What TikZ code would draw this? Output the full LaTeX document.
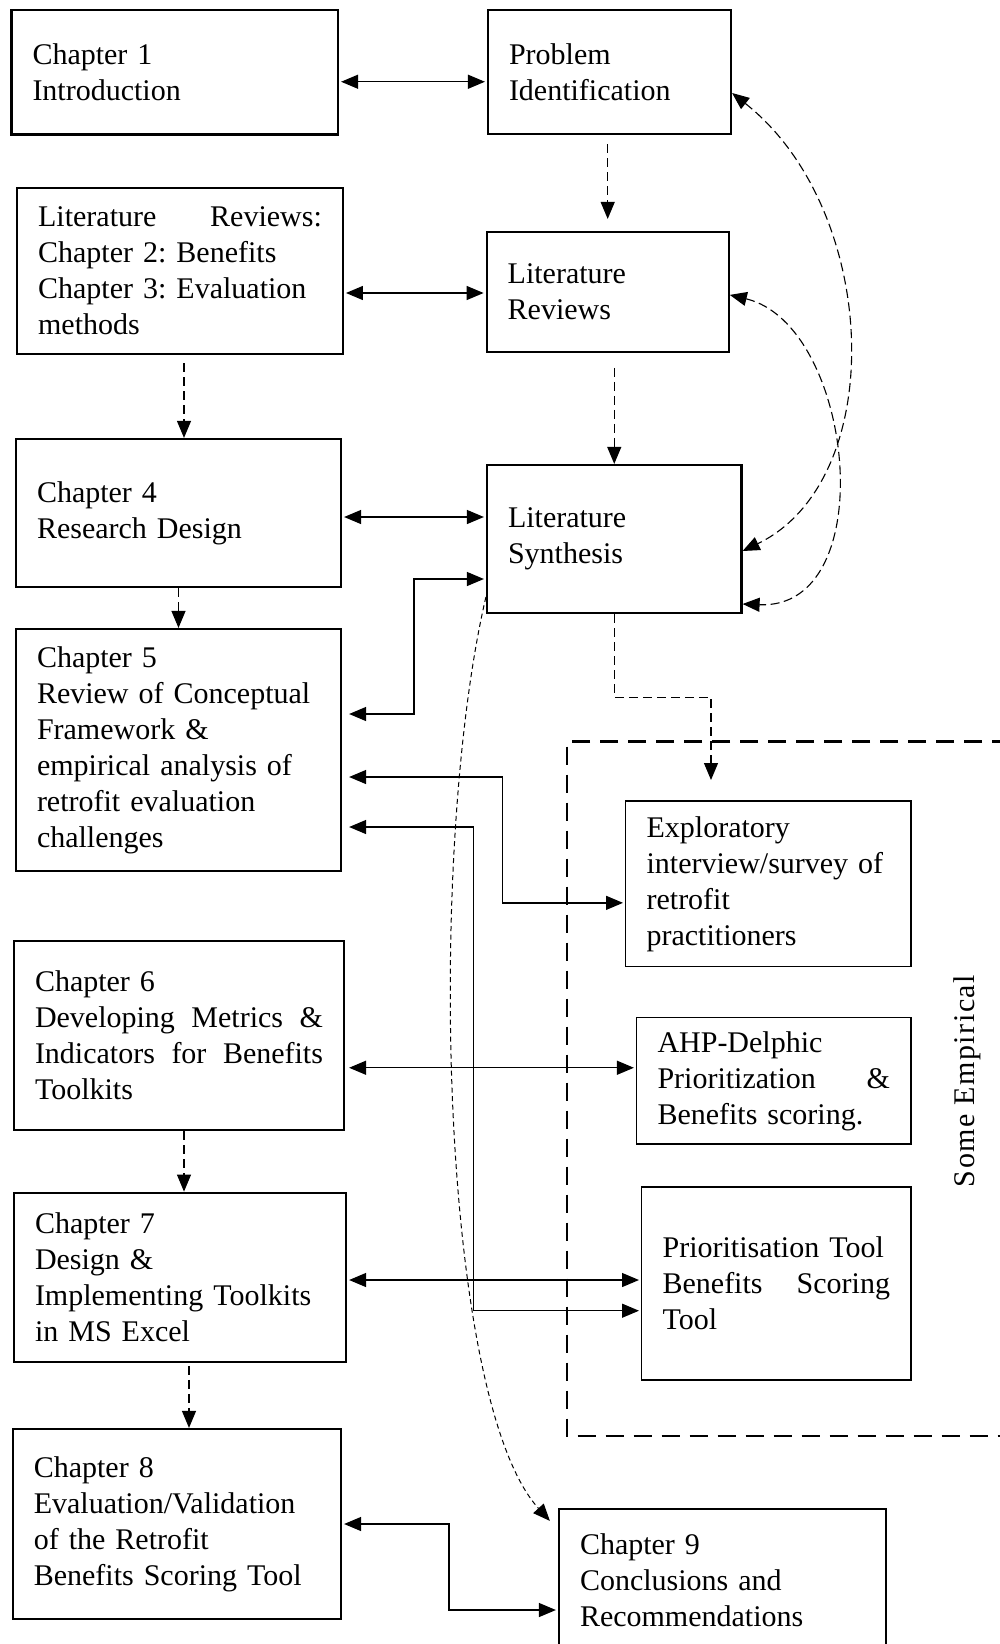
\documentclass[tikz,border=0pt]{standalone}
\usepackage{fontspec}
\setmainfont{Liberation Serif}
\newfontfamily\labelfont[LetterSpace=5]{Liberation Serif}
\frenchspacing
\usetikzlibrary{arrows.meta,calc}

\tikzset{
  chbox/.style={draw, rectangle, line width=2.2pt, align=left, inner xsep=21pt, inner ysep=0pt,
    font=\fontsize{30}{36}\selectfont},
  sidebox/.style={chbox, line width=1.2pt},
  link/.style={line width=1.3pt, <->, shorten <=2pt, shorten >=2pt},
  flow/.style={line width=1.1pt, dash pattern=on 9pt off 5pt, ->},
  curvelink/.style={line width=1.1pt, dash pattern=on 9pt off 4.5pt, <->},
  longcurve/.style={line width=1pt, dash pattern=on 5pt off 3.5pt, ->},
  region/.style={line width=2.6pt, dash pattern=on 18pt off 10pt},
}

\begin{document}
\begin{tikzpicture}[x=1pt, y=-1pt, >={Triangle[length=17pt,width=14pt]}]
\useasboundingbox (0,0) rectangle (999,1644);
\fill[white] (0,0) rectangle (999,1644);

% left column: chapters
\node[chbox, minimum width=326.5pt, minimum height=124.5pt, text width=284.5pt] (ch1) at (174.75,72.25)
  {Chapter 1\\Introduction};
\node[chbox, minimum width=325.7pt, minimum height=166pt, text width=283.7pt] (litL) at (180,271)
  {Literature\hfill Reviews:\\Chapter 2: Benefits\\Chapter 3: Evaluation\\methods};
\node[chbox, minimum width=325pt, minimum height=148pt, text width=283pt] (ch4) at (178.5,513)
  {Chapter 4\\Research Design};
\node[chbox, minimum width=325pt, minimum height=242pt, text width=283pt] (ch5) at (178.5,750)
  {Chapter 5\\Review of Conceptual\\Framework \&\\empirical analysis of\\retrofit evaluation\\challenges};
\node[chbox, minimum width=330pt, minimum height=189.3pt, text width=288pt] (ch6) at (179,1035.35)
  {Chapter 6\\Developing\hfill Metrics\hfill \&\\Indicators\hfill for\hfill Benefits\\Toolkits};
\node[chbox, minimum width=332pt, minimum height=169pt, text width=290pt] (ch7) at (180,1277.2)
  {Chapter 7\\Design \&\\Implementing Toolkits\\in MS Excel};
\node[chbox, minimum width=328.2pt, minimum height=190pt, text width=286.2pt] (ch8) at (176.9,1524)
  {Chapter 8\\Evaluation/Validation\\of the Retrofit\\Benefits Scoring Tool};

% middle column
\node[chbox, minimum width=243pt, minimum height=124pt, text width=201pt] (pi) at (609.5,72)
  {Problem\\Identification};
\node[chbox, minimum width=242pt, minimum height=119.7pt, text width=200pt] (litR) at (607.7,291.9)
  {Literature\\Reviews};
\node[chbox, minimum width=254.5pt, minimum height=148pt, text width=212.5pt] (syn) at (614.25,539)
  {Literature\\Synthesis};
\node[chbox, minimum width=327pt, minimum height=142pt, text width=285pt] (ch9) at (722.5,1580)
  {Chapter 9\\Conclusions and\\Recommendations};

% empirical work
\node[sidebox, minimum width=285.4pt, minimum height=165.7pt, text width=243.4pt] (expl) at (768.3,883.85)
  {Exploratory\\interview/survey of\\retrofit\\practitioners};
\node[sidebox, minimum width=274.5pt, minimum height=126.3pt, text width=232.5pt] (ahp) at (773.75,1080.85)
  {AHP-Delphic\\Prioritization\hfill \&\\Benefits scoring.};
\node[sidebox, minimum width=269.4pt, minimum height=193pt, text width=227.4pt] (prio) at (776.3,1283.5)
  {Prioritisation Tool\\Benefits\hfill Scoring\\Tool};

% frame of the empirical part
\draw[region] (1010,741.7) -- (567,741.7) -- (567,1436) -- (1010,1436);
\node[rotate=90, inner sep=0pt, font=\labelfont\fontsize{30}{36}\selectfont] (emp) at (967,1081) {Some Empirical};

% two-way links
\coordinate (a1) at ([yshift=-9.5pt]ch1.east);
\draw[link] (a1) -- (a1 -| pi.west);
\coordinate (a2) at ([yshift=-22pt]litL.east);
\draw[link] (a2) -- (a2 -| litR.west);
\coordinate (a3) at ([yshift=-4pt]ch4.east);
\draw[link] (a3) -- (a3 -| syn.west);
\coordinate (a4) at ([yshift=-40pt]syn.west);
\coordinate (a4b) at ([yshift=36pt]ch5.east);
\draw[link, shorten >=7pt] (a4) -- ([xshift=-72pt]a4) |- (a4b);
\coordinate (a5) at ([yshift=-27pt]ch5.east);
\coordinate (a5b) at ([yshift=-19pt]expl.west);
\draw[link, shorten <=7pt] (a5) -| ([xshift=-122.6pt]a5b) -- (a5b);
\coordinate (a6) at ([yshift=-77pt]ch5.east);
\coordinate (a6b) at ([yshift=-27.2pt]prio.west);
\draw[link, shorten <=7pt] (a6) -| ([xshift=-167.6pt]a6b) -- (a6b);
\coordinate (a7) at ([yshift=-32.4pt]ch6.east);
\draw[link, shorten <=4pt] (a7) -- (a7 -| ahp.west);
\coordinate (a8) at ([yshift=-2.8pt]ch7.east);
\draw[link] (a8) -- (a8 -| prio.west);
\coordinate (a9b) at ([yshift=-30pt]ch9.west);
\draw[link] (ch8.east) -| ([xshift=-109pt]a9b) -- (a9b);

% sequence of work
\draw[flow, shorten <=9pt, shorten >=12pt] (pi.south -| litR.north) -- (litR.north);
\draw[flow, shorten <=15pt] (litR.south -| syn.north) -- (syn.north);
\coordinate (b1) at ([xshift=4pt]litL.south);
\draw[flow, shorten <=8pt] (b1) -- (b1 |- ch4.north);
\draw[flow] (ch4.south) -- (ch5.north);
\coordinate (b2) at ([xshift=5pt]ch6.south);
\draw[flow] (b2) -- (b2 |- ch7.north);
\coordinate (b3) at ([xshift=9pt]ch7.south);
\draw[flow, shorten <=3pt] (b3) -- (b3 |- ch8.north);
\coordinate (probe) at (711,780);
\draw[flow] (syn.south) -- ++(0,83) -| (probe);

% feedback loops
\draw[curvelink] ([yshift=-21pt]pi.east) .. controls +(148,117) and +(147,-71) .. ([yshift=-12pt]syn.east);
\draw[curvelink] ([yshift=-3pt]litR.east) .. controls +(125,30) and +(140,6) .. ([yshift=-65pt]syn.east);
\draw[longcurve] ([yshift=-58pt]syn.west) .. controls +(-59,253) and +(-111,-122) .. ([xshift=-8pt,yshift=-13pt]ch9.north west);
\end{tikzpicture}
\end{document}
